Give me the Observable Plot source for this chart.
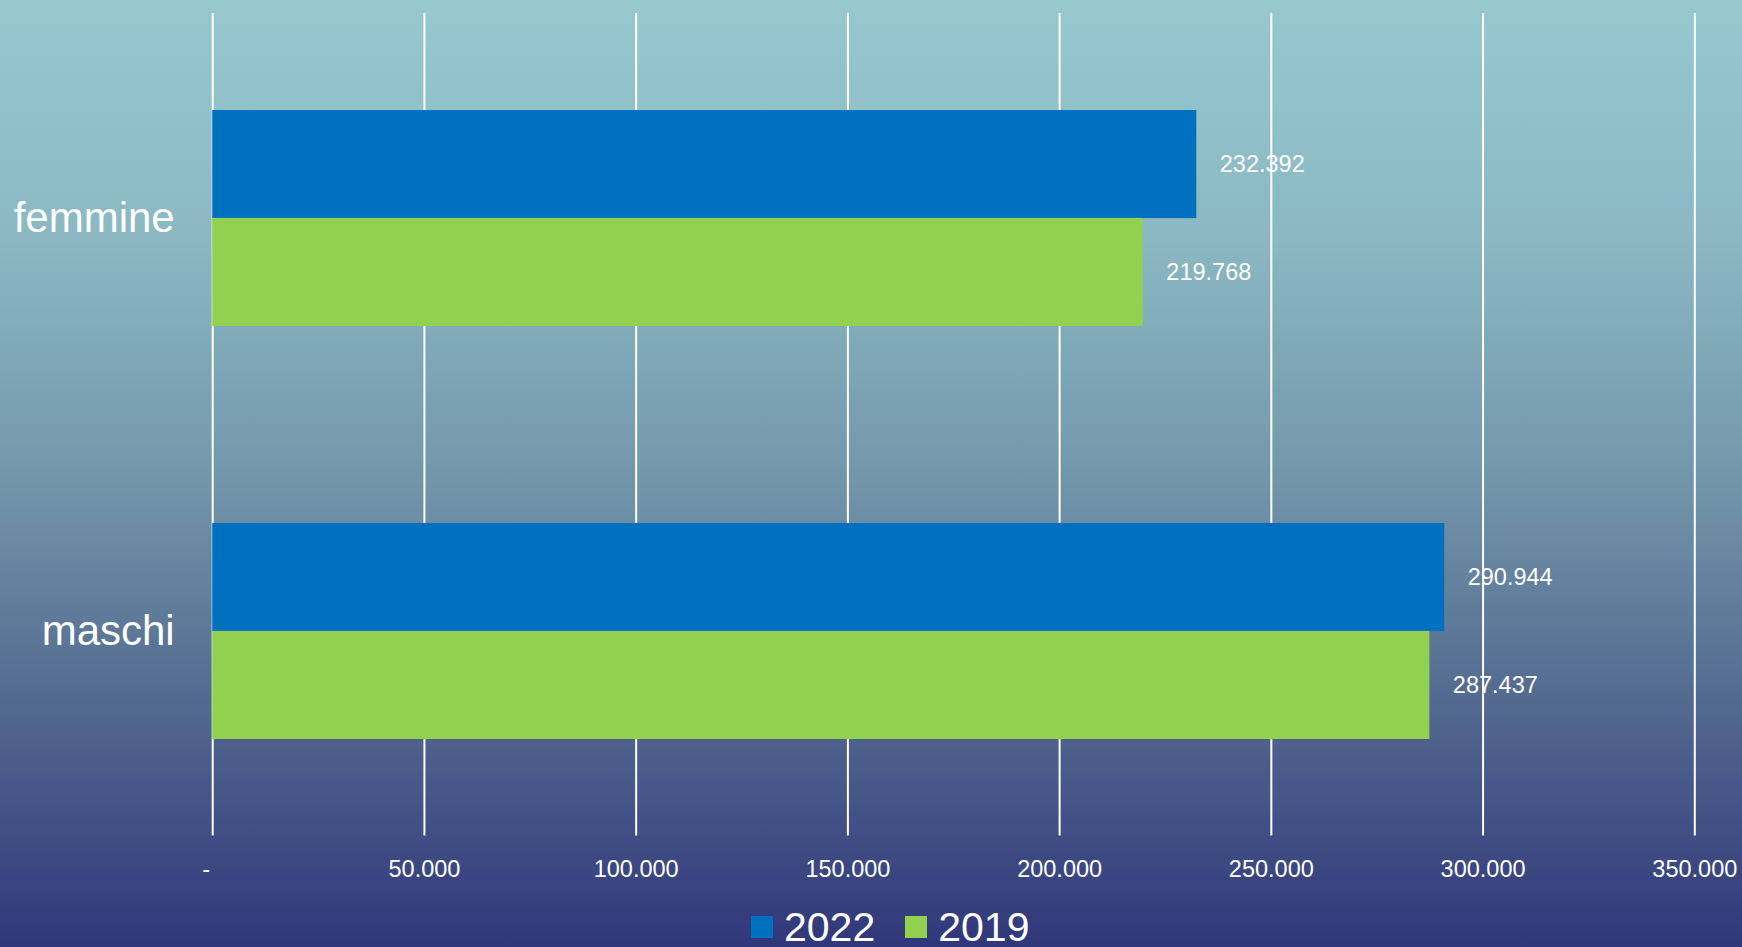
<!DOCTYPE html>
<html>
<head>
<meta charset="utf-8">
<script src="https://cdn.jsdelivr.net/npm/d3@7"></script>
<script src="https://cdn.jsdelivr.net/npm/@observablehq/plot@0.6"></script>
<style>
  html, body { margin: 0; padding: 0; }
  body { width: 1742px; height: 947px; overflow: hidden; }
  #wrap {
    position: relative; width: 1742px; height: 947px; overflow: hidden;
    background: linear-gradient(to bottom, #96c8ce 0%, #8bb8c3 25%, #7397aa 50%, #52688f 75%, #30377a 100%);
    font-family: "Liberation Sans", Arial, sans-serif;
  }
  #chart { position: absolute; left: 0; top: 0; }
  #legend { position: absolute; left: 751px; top: 908px; }
  .lg-swatches { font-family: "Liberation Sans", Arial, sans-serif !important; font-size: 41px !important; color: white !important; margin: 0 !important; line-height: 38px !important; min-height: 0 !important; }
  .lg-swatch { margin-right: 30px !important; display: inline-flex; align-items: center; line-height: 38px; }
  .lg-swatch > svg { margin-right: 11px !important; }
</style>
</head>
<body>
<div id="wrap">
  <div id="chart"></div>
  <div id="legend"></div>
</div>
<script>
// ---- data ----
const categories = ["femmine", "maschi"];
const years = ["2022", "2019"];
const values2022 = [232392, 290944];
const values2019 = [219768, 287437];
const xTicks = [0, 50000, 100000, 150000, 200000, 250000, 300000, 350000];
const colors = ["#0070C0", "#92D050"];

const rows2022 = categories.map((c, i) => ({category: c, year: years[0], value: values2022[i]}));
const rows2019 = categories.map((c, i) => ({category: c, year: years[1], value: values2019[i]}));

const itFormat = d3.formatLocale({decimal: ",", thousands: ".", grouping: [3], currency: ["", "€"]}).format(",d");
const tickFmt = d => d === 0 ? "-\u00a0\u00a0" : itFormat(d);

// ---- layout ----
const W = 1742, H = 900;
const mt = 13, mb = H - 835.5, ml = 212.2, mr = 47.7;
const pi = 0.478, po = 0.234;
const step = (H - mt - mb) / (categories.length - pi + 2 * po);
const bw = step * (1 - pi);
const half = bw / 2;
const font = "'Liberation Sans', Arial, sans-serif";

const marks = [
  Plot.ruleX(xTicks, {x: d => d, stroke: "white", strokeWidth: 2}),
  Plot.barX(rows2022, {x: "value", y: "category", fill: colors[0], insetBottom: half}),
  Plot.barX(rows2019, {x: "value", y: "category", fill: colors[1], insetTop: half}),
  Plot.text(rows2022, {x: "value", y: "category", text: d => itFormat(d.value), dx: 23, dy: -half / 2, textAnchor: "start", fill: "white", fontSize: 23.5}),
  Plot.text(rows2019, {x: "value", y: "category", text: d => itFormat(d.value), dx: 23, dy: half / 2, textAnchor: "start", fill: "white", fontSize: 23.5})
];

let xOpts = {domain: [0, 350000], axis: null};
let yOpts = {domain: categories, paddingInner: pi, paddingOuter: po, axis: null};
if (Plot.axisX && Plot.axisY) {
  marks.push(Plot.axisX(xTicks, {tickSize: 0, tickPadding: 24, tickFormat: tickFmt, fontSize: 23.5, fill: "white", color: "white", label: null}));
  marks.push(Plot.axisY(categories, {tickSize: 0, tickPadding: 38, fontSize: 42, fill: "white", color: "white", label: null}));
} else {
  marks.push(Plot.text(xTicks, {x: d => d, frameAnchor: "bottom", dy: 32.5, text: tickFmt, fill: "white", fontSize: 23.5}));
  marks.push(Plot.text(categories, {y: d => d, frameAnchor: "left", dx: -38, textAnchor: "end", fill: "white", fontSize: 42}));
}

const chart = Plot.plot({
  width: W, height: H,
  marginTop: mt, marginBottom: mb, marginLeft: ml, marginRight: mr,
  style: {background: "transparent", fontFamily: font, color: "white", overflow: "visible"},
  x: xOpts,
  y: yOpts,
  marks
});
document.getElementById("chart").appendChild(chart);

const legend = Plot.legend({
  color: {type: "ordinal", domain: years, range: colors},
  legend: "swatches",
  swatchSize: 22,
  className: "lg"
});
document.getElementById("legend").appendChild(legend);
</script>
</body>
</html>
